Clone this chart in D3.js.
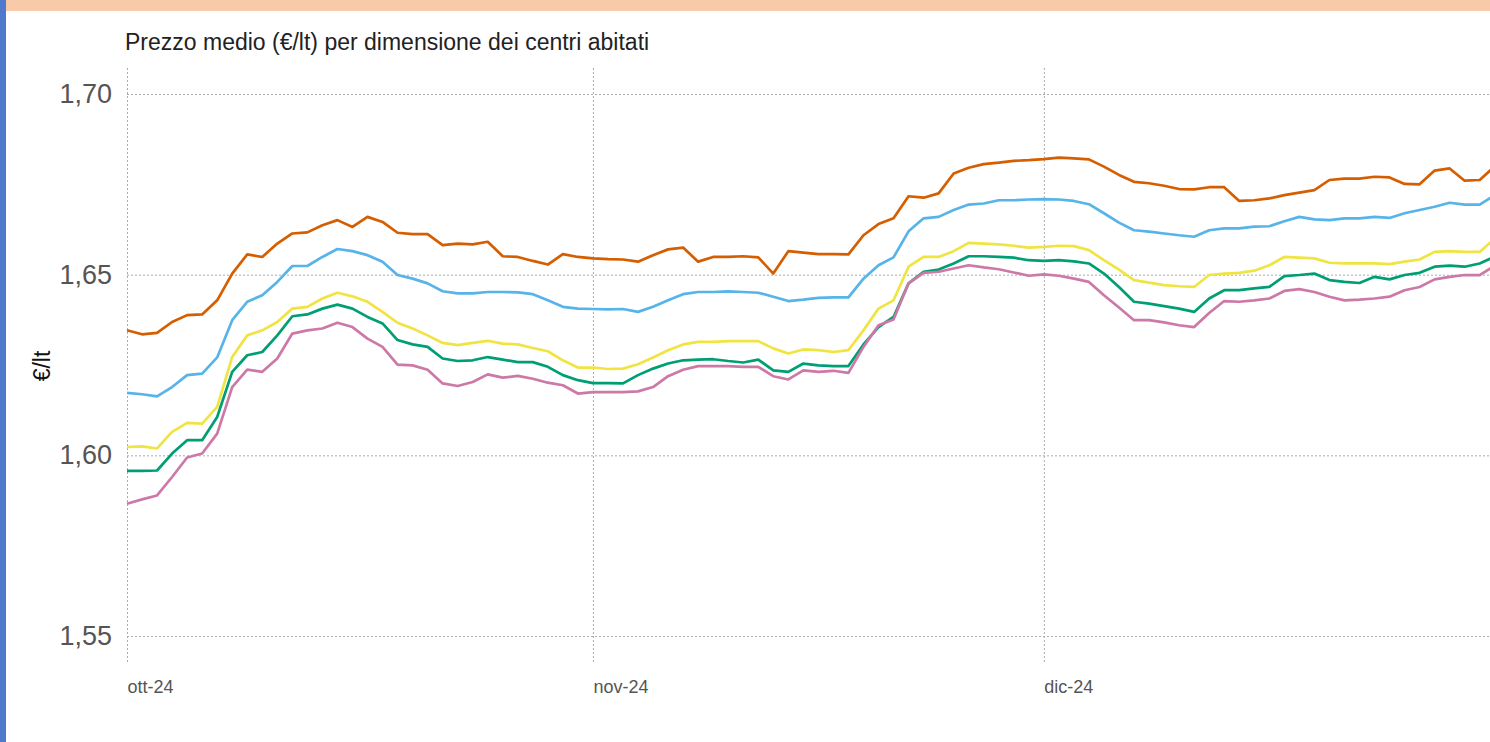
<!DOCTYPE html>
<html>
<head>
<meta charset="utf-8">
<script src="https://cdn.jsdelivr.net/npm/d3@7"></script>
<style>
  body { margin: 0; background: #fff; }
  svg { display: block; font-family: "Liberation Sans", Arial, sans-serif; }
</style>
</head>
<body>
<svg id="chart"></svg>
<script>
// prezzi medi giornalieri, 1 ott - 31 dic 2024
const startDay = new Date(2024, 9, 1);
const endDay = new Date(2025, 0, 1);
const monthTicks = [new Date(2024, 9, 1), new Date(2024, 10, 1), new Date(2024, 11, 1)];
const monthLabels = ["ott-24", "nov-24", "dic-24"];
const yTicks = [1.55, 1.60, 1.65, 1.70];

const seriesNames = ["Grandi centri", "Centri medio-grandi", "Centri medi", "Centri medio-piccoli", "Piccoli centri"];
const seriesColors = ["#D55E00", "#56B4E9", "#F0E442", "#009E73", "#CC79A7"];

const orange = [1.6346,1.6335,1.6339,1.6369,1.6388,1.6390,1.6429,1.6503,1.6556,1.6549,
  1.6586,1.6614,1.6617,1.6637,1.6651,1.6632,1.6660,1.6646,1.6616,1.6612,
  1.6612,1.6582,1.6586,1.6584,1.6591,1.6551,1.6549,1.6538,1.6528,1.6557,
  1.6549,1.6545,1.6543,1.6542,1.6536,1.6554,1.6570,1.6575,1.6536,1.6549,
  1.6549,1.6551,1.6548,1.6503,1.6565,1.6561,1.6557,1.6557,1.6556,1.6609,
  1.6640,1.6656,1.6717,1.6713,1.6725,1.6780,1.6796,1.6806,1.6810,1.6815,
  1.6817,1.6820,1.6824,1.6822,1.6819,1.6799,1.6776,1.6757,1.6753,1.6746,
  1.6737,1.6736,1.6742,1.6742,1.6704,1.6706,1.6711,1.6720,1.6727,1.6734,
  1.6762,1.6766,1.6766,1.6771,1.6769,1.6751,1.6750,1.6788,1.6794,1.6760,
  1.6762,1.6800];
const blue = [1.6173,1.6169,1.6163,1.6189,1.6222,1.6226,1.6271,1.6374,1.6425,1.6443,
  1.6480,1.6524,1.6524,1.6549,1.6571,1.6565,1.6554,1.6536,1.6499,1.6489,
  1.6476,1.6454,1.6448,1.6448,1.6452,1.6452,1.6451,1.6446,1.6429,1.6411,
  1.6406,1.6405,1.6404,1.6405,1.6397,1.6411,1.6429,1.6446,1.6452,1.6452,
  1.6454,1.6452,1.6450,1.6439,1.6427,1.6431,1.6436,1.6437,1.6437,1.6489,
  1.6526,1.6548,1.6620,1.6656,1.6660,1.6679,1.6694,1.6697,1.6706,1.6706,
  1.6708,1.6709,1.6708,1.6704,1.6695,1.6670,1.6644,1.6623,1.6619,1.6614,
  1.6609,1.6605,1.6623,1.6628,1.6628,1.6633,1.6634,1.6648,1.6660,1.6653,
  1.6651,1.6656,1.6656,1.6660,1.6657,1.6670,1.6679,1.6688,1.6699,1.6694,
  1.6694,1.6720];
const yellow = [1.6023,1.6025,1.6019,1.6065,1.6090,1.6088,1.6134,1.6272,1.6332,1.6346,
  1.6369,1.6406,1.6411,1.6434,1.6450,1.6440,1.6425,1.6397,1.6367,1.6351,
  1.6332,1.6311,1.6305,1.6311,1.6317,1.6309,1.6307,1.6297,1.6288,1.6263,
  1.6243,1.6243,1.6239,1.6240,1.6252,1.6271,1.6291,1.6307,1.6314,1.6314,
  1.6316,1.6316,1.6316,1.6296,1.6282,1.6293,1.6291,1.6286,1.6291,1.6346,
  1.6406,1.6429,1.6522,1.6549,1.6549,1.6565,1.6588,1.6586,1.6584,1.6580,
  1.6575,1.6577,1.6580,1.6579,1.6568,1.6540,1.6514,1.6485,1.6478,1.6471,
  1.6468,1.6466,1.6499,1.6503,1.6505,1.6511,1.6526,1.6549,1.6547,1.6545,
  1.6533,1.6531,1.6531,1.6531,1.6529,1.6536,1.6542,1.6563,1.6565,1.6563,
  1.6563,1.6600];
const green = [1.5957,1.5957,1.5958,1.6005,1.6042,1.6042,1.6106,1.6231,1.6277,1.6286,
  1.6332,1.6385,1.6390,1.6406,1.6417,1.6406,1.6383,1.6365,1.6319,1.6307,
  1.6300,1.6268,1.6261,1.6263,1.6272,1.6265,1.6258,1.6258,1.6245,1.6222,
  1.6208,1.6200,1.6200,1.6199,1.6222,1.6240,1.6254,1.6263,1.6265,1.6266,
  1.6261,1.6257,1.6265,1.6235,1.6231,1.6254,1.6249,1.6247,1.6247,1.6307,
  1.6355,1.6383,1.6476,1.6508,1.6514,1.6531,1.6551,1.6551,1.6549,1.6547,
  1.6540,1.6538,1.6540,1.6537,1.6531,1.6503,1.6466,1.6425,1.6420,1.6413,
  1.6406,1.6397,1.6434,1.6457,1.6457,1.6462,1.6466,1.6496,1.6499,1.6503,
  1.6485,1.6480,1.6477,1.6494,1.6487,1.6499,1.6505,1.6522,1.6525,1.6522,
  1.6531,1.6550];
const pink = [1.5866,1.5878,1.5889,1.5940,1.5994,1.6005,1.6060,1.6189,1.6237,1.6231,
  1.6268,1.6337,1.6346,1.6351,1.6367,1.6355,1.6323,1.6300,1.6251,1.6249,
  1.6237,1.6199,1.6192,1.6203,1.6224,1.6215,1.6220,1.6212,1.6201,1.6194,
  1.6171,1.6175,1.6175,1.6175,1.6177,1.6189,1.6219,1.6237,1.6247,1.6247,
  1.6247,1.6245,1.6245,1.6219,1.6210,1.6235,1.6231,1.6234,1.6228,1.6300,
  1.6360,1.6376,1.6476,1.6505,1.6508,1.6517,1.6526,1.6520,1.6515,1.6506,
  1.6497,1.6501,1.6497,1.6489,1.6480,1.6443,1.6409,1.6374,1.6374,1.6368,
  1.6360,1.6355,1.6394,1.6427,1.6425,1.6429,1.6434,1.6455,1.6460,1.6452,
  1.6439,1.6429,1.6431,1.6434,1.6439,1.6457,1.6466,1.6487,1.6494,1.6499,
  1.6499,1.6525];

const W = 1490, H = 742;
const margin = {top: 94, left: 127, bottom: 106};
const days = d3.timeDay.range(startDay, endDay);
const allSeries = [orange, blue, yellow, green, pink];

const svg = d3.select("#chart").attr("width", W).attr("height", H);

// cornice
svg.append("rect").attr("x", 0).attr("y", 0).attr("width", W).attr("height", 11).attr("fill", "#F8CAA9");
svg.append("rect").attr("x", 0).attr("y", 0).attr("width", 6).attr("height", H).attr("fill", "#4F7ACB");

const x = d3.scaleTime()
  .domain([startDay, days[days.length - 1]])
  .range([margin.left, margin.left + 15.03 * (days.length - 1)]);
const y = d3.scaleLinear().domain([1.55, 1.70]).range([636, 94]);

const it = d3.formatLocale({decimal: ",", thousands: ".", grouping: [3], currency: ["€", ""]});
const fmt = it.format(".2f");

// griglia orizzontale
const yAxis = d3.axisLeft(y).tickValues(yTicks).tickFormat(fmt).tickSize(-(W - margin.left)).tickPadding(15);
const gy = svg.append("g").attr("transform", `translate(${margin.left},0)`).call(yAxis);
gy.select(".domain").remove();
gy.selectAll(".tick line").attr("stroke", "#aaa").attr("stroke-dasharray", "2,2");
gy.selectAll(".tick text").attr("fill", "#555").attr("font-size", 27).style("font-family", "Liberation Sans, Arial, sans-serif");

// griglia verticale (mesi)
const xAxis = d3.axisBottom(x).tickValues(monthTicks).tickFormat((d, i) => monthLabels[i]).tickSize(-(662 - 67)).tickPadding(0);
const gx = svg.append("g").attr("transform", "translate(0,662)").call(xAxis);
gx.select(".domain").remove();
gx.selectAll(".tick line").attr("stroke", "#aaa").attr("stroke-dasharray", "2,2");
gx.selectAll(".tick text")
  .attr("fill", "#555").attr("font-size", 18).attr("text-anchor", "start")
  .attr("dy", null).attr("y", 31)
  .style("font-family", "Liberation Sans, Arial, sans-serif");

const line = d3.line()
  .x((d, i) => x(days[i]))
  .y(d => y(d));

svg.append("g").selectAll("path")
  .data(allSeries)
  .join("path")
  .attr("d", d => line(d))
  .attr("fill", "none")
  .attr("stroke", (d, i) => seriesColors[i])
  .attr("stroke-width", 2.7)
  .attr("stroke-linejoin", "round");

svg.append("text")
  .attr("x", 125).attr("y", 50)
  .attr("font-size", 23).attr("fill", "#222")
  .text("Prezzo medio (€/lt) per dimensione dei centri abitati");

svg.append("text")
  .attr("transform", "translate(50,366) rotate(-90)")
  .attr("text-anchor", "middle")
  .attr("font-size", 23).attr("fill", "#111")
  .text("€/lt");
</script>
</body>
</html>
